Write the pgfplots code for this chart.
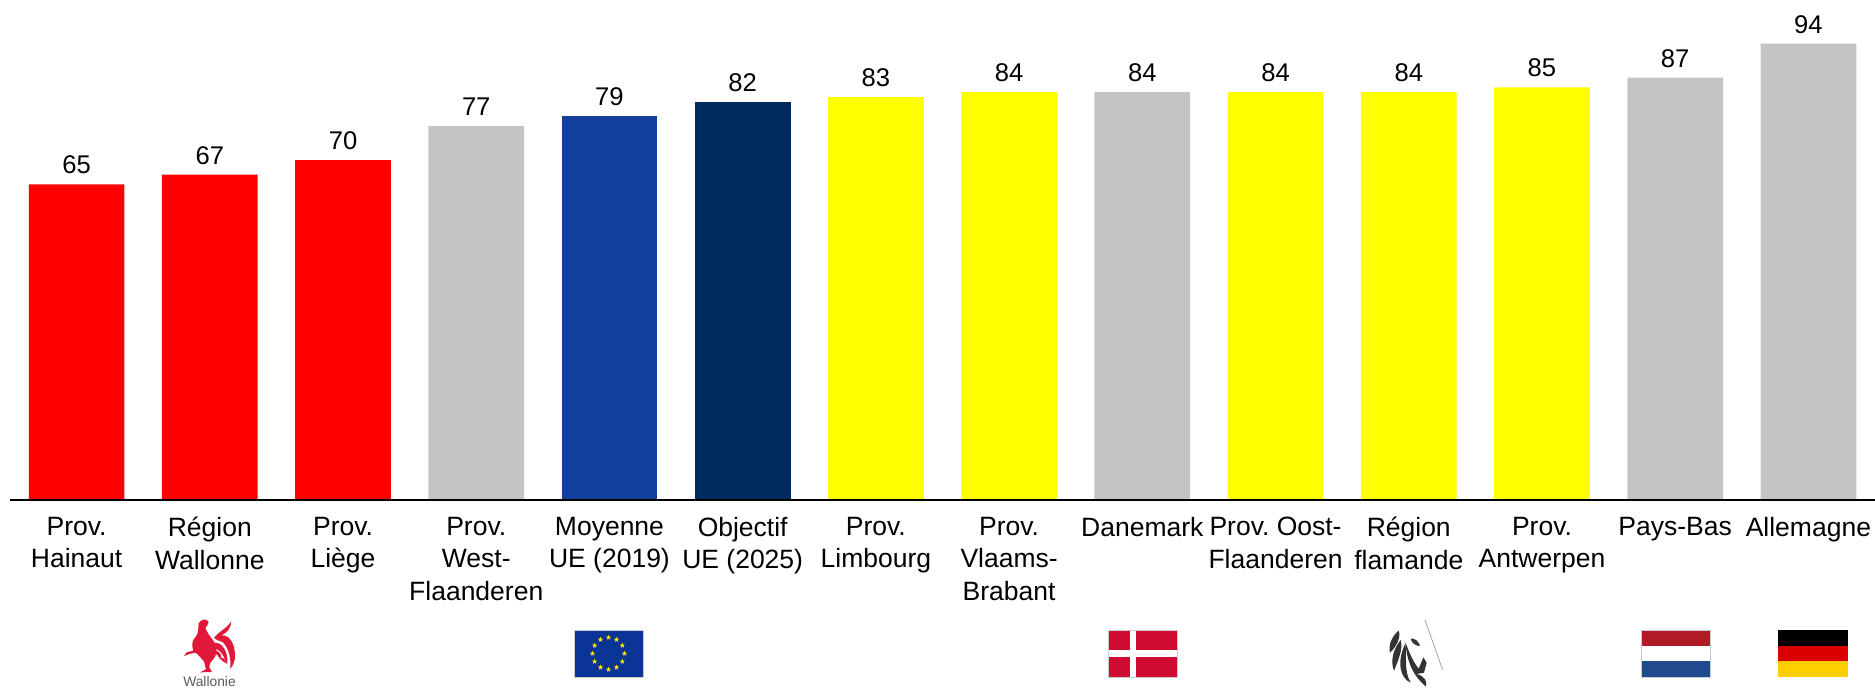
\documentclass[border=0pt]{standalone}
\usepackage{fontspec}
\setmainfont{Liberation Sans}
\usepackage{pgfplots}
\pgfplotsset{compat=1.18}
\usetikzlibrary{shapes.geometric}
\definecolor{wred}{HTML}{FF0000}
\definecolor{neutral}{HTML}{C4C4C4}
\definecolor{eublue}{HTML}{123F9C}
\definecolor{eunavy}{HTML}{002B60}
\definecolor{flyellow}{HTML}{FFFF00}
\definecolor{rooster}{HTML}{E0193A}
\definecolor{flagblue}{HTML}{0A3496}
\definecolor{dkred}{HTML}{D00C33}
\definecolor{nlred}{HTML}{B01C26}
\definecolor{nlblue}{HTML}{204A8E}
\definecolor{dered}{HTML}{DD0000}
\definecolor{degold}{HTML}{FFCE00}
\frenchspacing
\begin{document}
\begin{tikzpicture}
\path[use as bounding box] (0,0) rectangle (937.5pt,344pt);
\clip (0,0) rectangle (937.5pt,344pt);
\begin{axis}[
  at={(5pt,94pt)}, anchor=south west,
  scale only axis, width=932.5pt, height=250pt,
  xmin=-0.5, xmax=13.5, ymin=0, ymax=103,
  axis x line=bottom, axis y line=none,
  axis line style={-, black, line width=1pt},
  axis on top,
  xtick={0,...,13}, major tick length=0pt,
  xticklabels={{Prov.\\Hainaut},{Région\\Wallonne},{Prov.\\Liège},{Prov.\\West-\\Flaanderen},{Moyenne\\UE (2019)},{Objectif\\UE (2025)},{Prov.\\Limbourg},{Prov.\\Vlaams-\\Brabant},{Danemark},{Prov. Oost-\\Flaanderen},{Région\\flamande},{Prov.\\Antwerpen},{Pays-Bas},{Allemagne}},
  xticklabel style={align=center, anchor=north, yshift=-5pt, font=\fontsize{13.25}{16.3}\selectfont},
  ybar, bar shift=0pt, bar width=47.85pt,
  clip=false,
  nodes near coords,
  nodes near coords style={font=\fontsize{12.8}{15}\selectfont, /pgf/number format/assume math mode=true, anchor=south, inner sep=1.5pt, yshift=3.5pt},
  point meta=y,
]
\addplot[fill=wred, draw=none] coordinates {(0,65) (1,67) (2,70)};
\addplot[fill=neutral, draw=none] coordinates {(3,77) (8,84) (12,87) (13,94)};
\addplot[fill=eublue, draw=none] coordinates {(4,79)};
\addplot[fill=eunavy, draw=none] coordinates {(5,82)};
\addplot[fill=flyellow, draw=none] coordinates {(6,83) (7,84) (9,84) (10,84) (11,85)};
\end{axis}

% Emblems row, laid out in a top-down unit of half a point
\begin{scope}[x=0.5pt, y=-0.5pt, yshift=344pt]
  % European flag
  \fill[flagblue] (574,630) rectangle (643,677);
  \draw[gray!40, line width=0.3pt] (574,630) rectangle (643,677);
  \foreach \a in {0,30,...,330}
    \node[star, star points=5, star point ratio=2.4, fill=yellow!90!orange, inner sep=0pt, minimum size=2.8pt]
      at ({608.5+16*cos(\a)},{653.5+16*sin(\a)}) {};
  % Denmark
  \fill[dkred] (1108,630) rectangle (1177,677);
  \fill[white] (1130,630) rectangle (1136,677);
  \fill[white] (1108,650) rectangle (1177,657);
  \draw[gray!40, line width=0.3pt] (1108,630) rectangle (1177,677);
  % Netherlands
  \fill[nlred] (1641,630) rectangle (1710,645.7);
  \fill[nlblue] (1641,661.3) rectangle (1710,677);
  \draw[gray!40, line width=0.3pt] (1641,630) rectangle (1710,677);
  % Germany
  \fill[black] (1778,630) rectangle (1848,645.7);
  \fill[dered] (1778,645.7) rectangle (1848,661.3);
  \fill[degold] (1778,661.3) rectangle (1848,677);
  % Walloon rooster
  \begin{scope}[shift={(150,610)}, x=0.1667pt, y=-0.1667pt]
    % head, neck, body and legs
    \fill[rooster]
      (146,40) .. controls (152,28) and (170,24) .. (176,36)
      .. controls (174,44) and (170,50) .. (166,54)
      .. controls (172,68) and (180,80) .. (190,92)
      .. controls (200,108) and (204,126) .. (194,142)
      .. controls (186,154) and (178,156) .. (178,172)
      -- (186,186) -- (150,187) -- (168,178) -- (162,154)
      .. controls (152,144) and (146,134) .. (136,128)
      -- (118,132) -- (102,138) -- (110,127) -- (130,122)
      .. controls (124,106) and (126,90) .. (136,82)
      .. controls (146,72) and (144,56) .. (146,40) -- cycle;
    % tail plumes
    \fill[rooster] (192,84) .. controls (208,62) and (228,58) .. (244,34)
      .. controls (242,58) and (228,70) .. (214,76)
      .. controls (238,74) and (254,100) .. (255,134)
      .. controls (256,150) and (250,168) .. (240,176)
      .. controls (244,150) and (238,116) .. (218,96)
      .. controls (208,92) and (200,92) .. (192,84) -- cycle;
    \fill[rooster] (194,98) .. controls (216,96) and (236,126) .. (232,164)
      .. controls (222,152) and (224,126) .. (196,116) -- cycle;
    \fill[rooster] (198,122) .. controls (210,124) and (216,136) .. (214,152)
      .. controls (206,146) and (206,134) .. (196,132) -- cycle;
    \fill[rooster] (212,146) .. controls (220,140) and (226,148) .. (228,160)
      .. controls (222,156) and (216,154) .. (212,146) -- cycle;
  \end{scope}
  \node[text=black!65, font=\fontsize{6.9}{8}\selectfont, anchor=base, inner sep=0pt] at (209.5,686.5) {Wallonie};
  % Flemish lion
  \begin{scope}[shift={(1370,620)}, x=0.1667pt, y=-0.1667pt]
    \fill[black!80] (86,32) .. controls (94,52) and (78,82) .. (60,98)
      .. controls (54,76) and (66,48) .. (86,32) -- cycle;
    \fill[black!80] (92,60) .. controls (100,88) and (84,122) .. (72,152)
      .. controls (60,124) and (70,86) .. (92,60) -- cycle;
    \fill[black!80] (106,70) .. controls (112,110) and (100,150) .. (122,188)
      .. controls (92,176) and (78,128) .. (106,70) -- cycle;
    \fill[black!80] (106,66) .. controls (120,104) and (130,126) .. (146,146)
      -- (160,112) -- (170,128) -- (162,158) -- (140,162)
      .. controls (164,168) and (172,184) .. (168,200)
      .. controls (148,182) and (112,150) .. (106,66) -- cycle;
    \fill[black!80] (122,56) .. controls (132,54) and (146,62) .. (150,78)
      .. controls (136,78) and (124,68) .. (122,56) -- cycle;
    \draw[black!40, line width=0.35pt] (165,0) -- (218,150);
  \end{scope}
\end{scope}
\end{tikzpicture}
\end{document}
